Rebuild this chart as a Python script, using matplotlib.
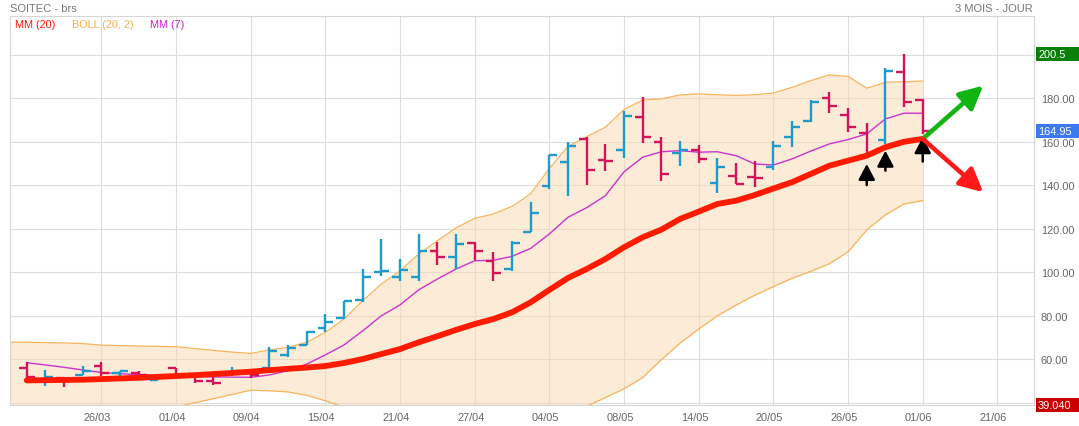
import matplotlib
matplotlib.use("Agg")
import matplotlib.pyplot as plt
import matplotlib.transforms as mtransforms
from matplotlib.patches import Rectangle
import numpy as np

plt.rcParams['font.family'] = ['Liberation Sans', 'DejaVu Sans']

# daily OHLC bars (one per session)
opens = [56.1, 51.0, 51.4, 53.0, 57.1, 54.0, 53.8, 50.8, 56.0, 52.3, 50.0, 53.6, 54.0,
         56.1, 62.2, 66.7, 74.5, 79.1, 87.2, 100.2, 98.1, 98.1, 109.7, 107.3, 113.6,
         105.3, 101.6, 118.8, 139.6, 150.7, 161.4, 151.7, 156.5, 171.6, 160.1, 154.9,
         156.5, 141.1, 144.5, 144.0, 148.4, 162.4, 169.8, 180.1, 172.6, 164.1, 160.9,
         192.0, 179.4]
highs = [58.7, 55.2, 52.1, 56.9, 58.7, 54.8, 54.6, 52.9, 56.1, 53.0, 51.8, 56.4, 54.5,
         65.6, 66.8, 73.1, 80.9, 87.0, 101.6, 115.4, 106.2, 117.7, 113.9, 117.7, 113.9,
         109.3, 114.6, 132.3, 154.2, 159.9, 162.2, 159.1, 174.4, 180.6, 162.2, 160.3,
         158.6, 152.6, 150.2, 151.1, 160.6, 169.8, 179.4, 182.9, 175.5, 168.6, 193.9,
         200.5, 179.8]
lows = [51.4, 48.0, 47.5, 53.0, 52.3, 52.0, 50.6, 50.1, 52.9, 49.1, 48.4, 52.6, 51.7,
        55.6, 61.0, 66.7, 72.8, 78.6, 86.3, 98.5, 96.0, 96.2, 103.6, 101.6, 105.7,
        96.2, 100.8, 118.8, 138.4, 135.3, 140.0, 146.8, 152.5, 159.4, 142.2, 149.1,
        150.2, 136.4, 140.7, 139.4, 147.3, 157.8, 169.1, 173.3, 164.5, 153.7, 159.0,
        176.0, 163.7]
closes = [52.1, 52.1, 50.6, 54.9, 53.8, 54.6, 52.9, 52.0, 53.1, 50.3, 49.2, 54.7, 52.9,
          64.0, 65.1, 72.8, 77.4, 86.8, 98.1, 100.5, 101.3, 110.0, 107.3, 113.1, 109.9,
          99.6, 113.6, 127.4, 154.2, 158.3, 147.3, 151.4, 172.1, 162.4, 145.3, 156.5,
          152.2, 148.6, 140.7, 143.4, 158.3, 166.8, 178.5, 176.7, 167.0, 154.5, 192.8,
          178.3, 164.95]

# moving averages
mm20 = [50.4, 50.5, 50.6, 50.7, 51.0, 51.3, 51.6, 52.0, 52.4, 52.8, 53.3, 53.8, 54.4,
        55.1, 55.7, 56.3, 57.0, 58.4, 60.2, 62.5, 64.8, 67.9, 70.7, 73.6, 76.3, 78.6,
        81.7, 86.3, 92.0, 97.5, 101.6, 106.2, 111.6, 116.2, 119.7, 124.6, 128.0, 131.5,
        133.0, 135.6, 138.6, 141.5, 145.3, 149.1, 151.4, 153.7, 157.6, 160.1, 161.4]
mm7 = [58.5, 57.5, 56.4, 55.2, 54.0, 53.5, 53.0, 52.6, 52.4, 52.2, 52.0, 51.9, 51.8,
       52.9, 54.9, 57.9, 62.1, 66.7, 73.2, 80.1, 85.1, 92.0, 97.0, 101.6, 105.4, 105.6,
       107.4, 111.1, 117.7, 125.4, 129.8, 135.3, 146.3, 153.0, 155.5, 156.0, 155.3,
       155.5, 153.7, 149.9, 149.4, 152.2, 155.8, 159.1, 161.1, 163.7, 170.6, 173.2, 173.2]

# bollinger bands, first value is the session before the first bar
boll_up = [68.0, 67.9, 67.8, 67.6, 67.3, 66.6, 66.4, 66.2, 66.0, 65.9, 65.0, 64.2, 63.4,
           62.8, 64.4, 65.6, 67.9, 72.5, 78.6, 87.0, 94.7, 100.8, 108.5, 114.6, 120.5,
           124.9, 126.9, 130.4, 136.2, 147.8, 158.0, 162.4, 166.8, 174.9, 179.3, 179.8,
           181.6, 182.1, 181.7, 181.4, 181.7, 182.5, 185.1, 188.2, 190.8, 190.2, 184.7,
           187.4, 187.7, 188.0]
boll_low = [32.5, 33.0, 33.2, 33.5, 34.0, 35.0, 35.5, 36.3, 36.5, 38.2, 40.1, 42.0, 43.9,
            45.9, 45.6, 45.1, 43.5, 41.0, 38.0, 33.0, 30.0, 28.5, 27.0, 27.0, 27.0, 28.0,
            30.0, 33.0, 36.0, 36.5, 37.0, 38.5, 42.5, 46.5, 51.7, 59.9, 67.5, 74.0, 80.0,
            85.0, 89.5, 93.5, 97.3, 100.5, 104.0, 109.5, 119.5, 126.5, 131.5, 133.0]

date_labels = ["26/03", "01/04", "09/04", "15/04", "21/04", "27/04", "04/05",
               "08/05", "14/05", "20/05", "26/05", "01/06", "21/06"]
price_ticks = [40, 60, 80, 100, 120, 140, 160, 180, 200]

# annotations: black arrows (bar, base, tip) and the two scenarios
up_arrow_bar = [45, 46, 48]
up_arrow_base = [140.2, 146.8, 151.0]
up_arrow_tip = [149.9, 156.0, 162.2]
scenario_end_x = 51.24
scenario_up = 185.9
scenario_down = 136.9

# right-hand value boxes
value_boxes = [("200.5", 200.5, "#0A800A"), ("164.95", 164.95, "#3C78F0"),
               ("39.040", 39.04, "#C80000")]

BLUE = "#1E9BCB"
CRIMSON = "#D4145A"
GRID = "#dddddd"
TXT = "#666666"

W, H = 1079, 427
fig = plt.figure(figsize=(W / 100, H / 100), dpi=100)
ax = fig.add_axes([10 / W, 1 - 406 / H, 1024 / W, 389 / H])

x = np.arange(len(opens))
band_x = np.arange(-1, len(boll_up) - 1)
o = np.array(opens)
c = np.array(closes)
cols = np.where(c >= o, BLUE, CRIMSON)

# bollinger
ax.fill_between(band_x, boll_low, boll_up, color="#F9D9B0", alpha=0.5, lw=0, zorder=1)
ax.plot(band_x, boll_up, color="#F7B45C", lw=0.9, zorder=2)
ax.plot(band_x, boll_low, color="#F7B45C", lw=0.9, zorder=2)

ax.plot(x, mm7, color="#CC33CC", lw=1.0, zorder=2.5)

# bars
ax.vlines(x, lows, highs, colors=cols, lw=1.7, zorder=3)
ax.hlines(o, x - 0.42, x, colors=cols, lw=1.7, zorder=3)
ax.hlines(c, x, x + 0.42, colors=cols, lw=1.7, zorder=3)

ax.plot(x, mm20, color="#FF1A00", lw=4.2, zorder=4, solid_capstyle="round")

# arrows
for b, y0, y1 in zip(up_arrow_bar, up_arrow_base, up_arrow_tip):
    ax.annotate("", xy=(b, y1), xytext=(b, y0),
                arrowprops=dict(arrowstyle="-|>,head_length=0.95,head_width=0.5",
                                color="black", lw=1.8, shrinkA=0, shrinkB=0,
                                mutation_scale=10), zorder=6)
for yend, col in [(scenario_up, "#11B511"), (scenario_down, "#FF1A1A")]:
    ax.annotate("", xy=(scenario_end_x, yend), xytext=(x[-1], mm20[-1]),
                arrowprops=dict(arrowstyle="-|>,head_length=1.4,head_width=0.7",
                                color=col, lw=3.3, shrinkA=0, shrinkB=0,
                                mutation_scale=10), zorder=6)

ax.set_xlim(-0.894, 53.96)
ax.set_ylim(39.08, 217.9)

ax.set_xticks(np.arange(4, 4 * len(date_labels) + 1, 4))
ax.set_xticklabels(date_labels)
ax.set_yticks(price_ticks)
# the 200 label sits under the green last-high box, so leave it blank
ax.set_yticklabels(["" if v == 200 else "%.2f" % v for v in price_ticks])
ax.yaxis.tick_right()
ax.tick_params(axis="both", length=0, labelsize=7.9, colors=TXT)
ax.tick_params(axis="y", pad=5)
ax.tick_params(axis="x", pad=5)
shift = mtransforms.ScaledTranslation(-4 / 100, 0, fig.dpi_scale_trans)
for lab in ax.get_xticklabels():
    lab.set_transform(lab.get_transform() + shift)

ax.grid(color=GRID, lw=0.8)
ax.set_axisbelow(True)
for s in ax.spines.values():
    s.set_color("#d6d6d6")
    s.set_linewidth(0.8)

# value boxes on the right axis
trans = mtransforms.blended_transform_factory(ax.transAxes, ax.transData)
for txt, val, col in value_boxes:
    ax.add_patch(Rectangle((1.002, val - 3.3), 0.05, 6.6, transform=trans,
                           facecolor=col, edgecolor="none", clip_on=False, zorder=10))
    ax.text(1.004, val, txt, transform=trans, color="white", fontsize=7.9,
            va="center", ha="left", zorder=11, clip_on=False)

# header texts
fig.text(10 / W, 1 - 9 / H, "SOITEC - brs", color="#777777", fontsize=8,
         va="center", ha="left")
fig.text(1033 / W, 1 - 9 / H, "3 MOIS - JOUR", color="#777777", fontsize=8,
         va="center", ha="right")
fig.text(15 / W, 1 - 25 / H, "MM (20)", color="#FF1A00", fontsize=7.8, va="center")
fig.text(72 / W, 1 - 25 / H, "BOLL (20, 2)", color="#F5AE50", fontsize=7.8, va="center")
fig.text(150 / W, 1 - 25 / H, "MM (7)", color="#CC22CC", fontsize=7.8, va="center")

fig.savefig("out.png", dpi=100)
